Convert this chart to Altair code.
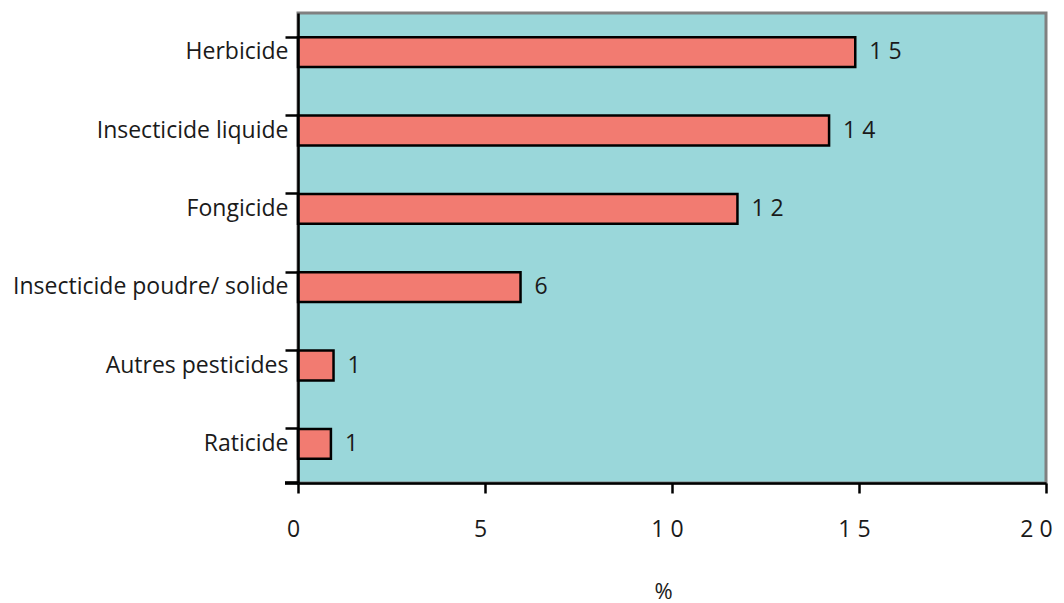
import altair as alt
import pandas as pd

categories = ["Herbicide", "Insecticide liquide", "Fongicide",
              "Insecticide poudre/ solide", "Autres pesticides", "Raticide"]
values = [14.9, 14.2, 11.75, 5.95, 0.95, 0.88]
value_labels = ["1 5", "1 4", "1 2", "6", "1", "1"]
x_ticks = [0, 5, 10, 15, 20]

df = pd.DataFrame({"cat": categories, "val": values, "lab": value_labels})

FONT = "Open Sans"
TXT = "#1a1a1a"

y_enc = alt.Y("cat:N", sort=categories,
              scale=alt.Scale(paddingInner=0.62, paddingOuter=0.31),
              axis=alt.Axis(title=None, bandPosition=0, tickSize=13, tickWidth=2.5,
                            tickColor="black", domainColor="black", domainWidth=2.5,
                            labelPadding=-3, labelFontSize=23, labelFont=FONT,
                            labelColor=TXT, labelLimit=400, zindex=2))

x_enc = alt.X("val:Q",
              scale=alt.Scale(domain=[0, 20], nice=False),
              axis=alt.Axis(title="%", values=x_ticks, tickSize=10, tickWidth=2.5,
                            tickColor="black", domainColor="black", domainWidth=2.5,
                            labelPadding=25, labelFontSize=23, labelFont=FONT,
                            labelColor=TXT,
                            labelOffset={"condition": {"test": "datum.value >= 20", "value": -10},
                                         "value": -5},
                            labelFlush=False, grid=False,
                            labelExpr="join(split(datum.label, ''), ' ')",
                            titleFont=FONT, titleFontSize=22, titleFontWeight="normal",
                            titleColor=TXT, titleX=365, titleY=115,
                            titleBaseline="alphabetic", zindex=2))

bars = alt.Chart(df).mark_bar(color="#F27B71", stroke="black", strokeWidth=2.5).encode(
    x=x_enc, y=y_enc)

texts = alt.Chart(df).mark_text(align="left", baseline="middle", dx=14, fontSize=23,
                                font=FONT, color=TXT).encode(
    x="val:Q", y=alt.Y("cat:N", sort=categories), text="lab:N")

corner = alt.Chart(df).mark_rule(color="black", strokeWidth=2.5).encode(
    x=alt.value(-13), x2=alt.value(0), y=alt.value(470))

chart = alt.layer(bars, texts, corner).properties(
    width=748, height=470,
    autosize=alt.AutoSizeParams(type="none"),
    padding={"left": 290, "top": 5, "right": 10, "bottom": 120},
).configure_view(fill="#9AD7DA", stroke="#808080", strokeWidth=3)

chart.save("out.html", embed_options={"renderer": "svg", "actions": False})
